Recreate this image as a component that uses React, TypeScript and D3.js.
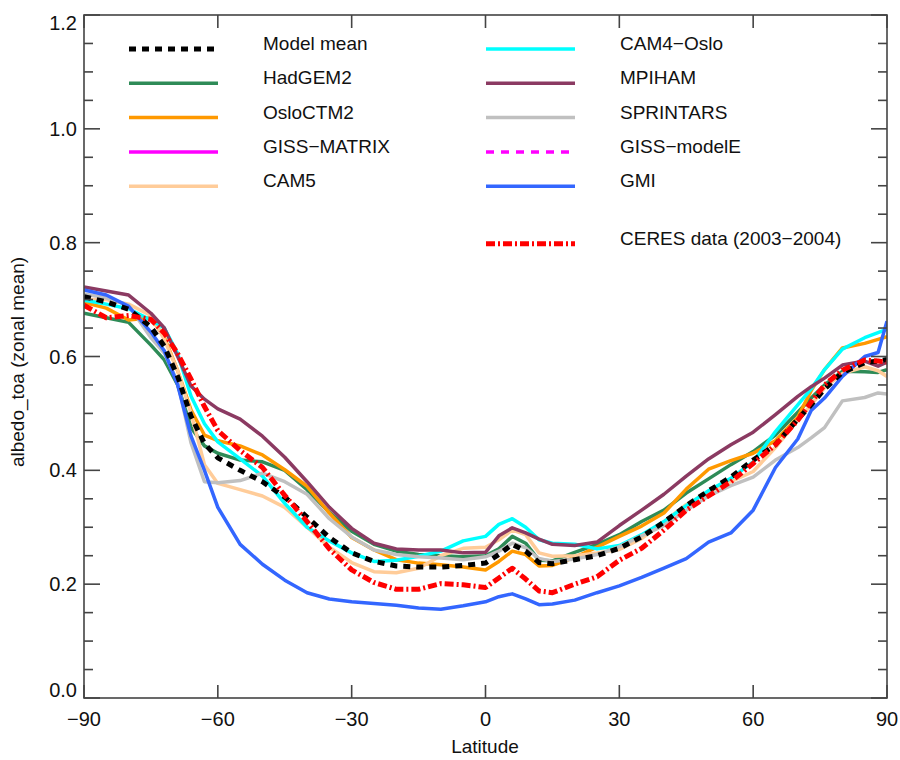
import React from "react";
import * as d3 from "d3";

const LAT = [-90, -85, -80, -75, -72, -69, -66, -63, -60, -55, -50, -45, -40, -35, -30, -25, -20, -15, -10, -5, 0, 3, 6, 9, 12, 15, 20, 25, 30, 35, 40, 45, 50, 55, 60, 65, 70, 73, 76, 80, 85, 88, 90];

const MODEL_MEAN = [.705, .696, .683, .652, .618, .565, .495, .447, .422, .400, .380, .353, .318, .282, .255, .240, .232, .230, .230, .233, .237, .252, .270, .258, .238, .236, .243, .250, .263, .283, .309, .338, .364, .388, .418, .445, .490, .515, .543, .572, .589, .592, .595];
const HADGEM2 = [.676, .668, .66, .62, .594, .55, .475, .443, .43, .418, .415, .40, .366, .326, .293, .27, .258, .252, .25, .248, .25, .262, .284, .272, .242, .241, .256, .27, .287, .31, .33, .36, .385, .41, .433, .462, .502, .527, .55, .574, .573, .572, .577];
const OSLOCTM2 = [.695, .685, .664, .668, .634, .575, .506, .462, .452, .443, .427, .401, .372, .325, .282, .26, .243, .237, .234, .23, .225, .24, .258, .252, .232, .233, .247, .265, .284, .302, .325, .367, .402, .417, .43, .452, .493, .54, .577, .615, .623, .63, .635];
const GISS_MATRIX: number[] = [];
const CAM5 = [.70, .70, .692, .672, .63, .575, .50, .41, .377, .366, .355, .335, .30, .265, .238, .222, .22, .228, .25, .263, .265, .278, .295, .287, .255, .249, .25, .255, .261, .28, .31, .34, .362, .38, .398, .44, .488, .515, .545, .57, .582, .575, .565];
const CAM4_OSLO = [.699, .692, .684, .664, .65, .605, .53, .482, .45, .42, .39, .342, .30, .276, .255, .24, .242, .249, .258, .276, .284, .305, .315, .30, .278, .272, .27, .262, .268, .287, .31, .338, .364, .386, .415, .468, .515, .543, .577, .613, .633, .642, .648];
const MPIHAM = [.722, .715, .708, .676, .65, .60, .548, .525, .508, .49, .46, .423, .38, .335, .298, .272, .262, .26, .26, .255, .256, .285, .299, .29, .279, .27, .268, .274, .303, .33, .358, .39, .42, .445, .467, .498, .53, .547, .562, .585, .592, .583, .59];
const SPRINTARS = [.71, .703, .69, .633, .606, .555, .448, .38, .378, .382, .395, .38, .358, .315, .283, .26, .252, .248, .246, .243, .248, .258, .272, .264, .245, .24, .244, .252, .266, .285, .303, .33, .355, .373, .388, .418, .44, .457, .475, .522, .528, .536, .534];
const GISS_MODELE: number[] = [];
const GMI = [.717, .708, .688, .643, .61, .55, .46, .40, .335, .27, .235, .207, .185, .174, .169, .166, .163, .158, .156, .162, .169, .178, .183, .174, .164, .165, .172, .185, .197, .212, .228, .245, .274, .29, .33, .405, .455, .505, .527, .565, .600, .607, .662];
const CERES = [.69, .668, .672, .665, .641, .605, .56, .512, .47, .435, .405, .356, .31, .262, .225, .203, .191, .191, .201, .199, .194, .211, .228, .209, .188, .185, .2, .213, .242, .263, .295, .33, .355, .38, .412, .445, .488, .52, .55, .576, .594, .592, .59];

const X_TICKS = [-90, -60, -30, 0, 30, 60, 90];
const Y_TICKS = [0.0, 0.2, 0.4, 0.6, 0.8, 1.0, 1.2];
const Y_MINOR = d3.range(0, 1.2001, 0.05);

type Series = { name: string; values: number[]; color: string; width: number; dash?: string; col: number; row: number };

const SERIES: Series[] = [
  { name: "Model mean", values: MODEL_MEAN, color: "#000000", width: 5, dash: "7 6", col: 0, row: 0 },
  { name: "HadGEM2", values: HADGEM2, color: "#2e8b57", width: 3.5, col: 0, row: 1 },
  { name: "OsloCTM2", values: OSLOCTM2, color: "#ff9900", width: 3.5, col: 0, row: 2 },
  { name: "GISS\u2212MATRIX", values: GISS_MATRIX, color: "#ff00ff", width: 3.5, col: 0, row: 3 },
  { name: "CAM5", values: CAM5, color: "#ffcc99", width: 3.5, col: 0, row: 4 },
  { name: "CAM4\u2212Oslo", values: CAM4_OSLO, color: "#00ffff", width: 3.5, col: 1, row: 0 },
  { name: "MPIHAM", values: MPIHAM, color: "#8b3a62", width: 3.5, col: 1, row: 1 },
  { name: "SPRINTARS", values: SPRINTARS, color: "#c0c0c0", width: 3.5, col: 1, row: 2 },
  { name: "GISS\u2212modelE", values: GISS_MODELE, color: "#ff00ff", width: 3.5, dash: "8 7", col: 1, row: 3 },
  { name: "GMI", values: GMI, color: "#3366ff", width: 3.5, col: 1, row: 4 },
  { name: "CERES data (2003\u22122004)", values: CERES, color: "#ff0000", width: 5, dash: "9 3 2 3", col: 1, row: 6 },
];

const DRAW_ORDER = ["HadGEM2", "OsloCTM2", "GISS\u2212MATRIX", "CAM5", "CAM4\u2212Oslo", "MPIHAM", "SPRINTARS", "GISS\u2212modelE", "GMI", "Model mean", "CERES data (2003\u22122004)"];

const W = 900, H = 760;
const L = 84, R = 887, T = 15, B = 698;
const FONT = "'Liberation Sans', Arial, Helvetica, sans-serif";

export default function App() {
  const x = d3.scaleLinear().domain([-90, 90]).range([L, R]);
  const y = d3.scaleLinear().domain([0, 1.2]).range([B, T]);
  const line = d3.line<[number, number]>().x(d => x(d[0])).y(d => y(d[1])).curve(d3.curveLinear);

  const legendRowY = (row: number) => 49 + row * 34.3 + (row >= 6 ? -11 : 0);
  const colLineX = [129, 486];
  const colTextX = [263, 620];

  return (
    <svg width={W} height={H} style={{ position: "absolute", left: 0, top: 0, background: "#fff" }} fontFamily={FONT}>
      <rect x={0} y={0} width={W} height={H} fill="#fff" />
      <defs>
        <clipPath id="plot"><rect x={L} y={T} width={R - L} height={B - T} /></clipPath>
      </defs>
      {/* lines */}
      <g clipPath="url(#plot)">
        {DRAW_ORDER.map(n => SERIES.find(s => s.name === n)!).filter(s => s.values.length).map(s => (
          <path key={s.name}
            d={line(LAT.map((lat, i) => [lat, s.values[i]] as [number, number])) || ""}
            fill="none" stroke={s.color} strokeWidth={s.width}
            strokeDasharray={s.dash} strokeLinejoin="round" strokeLinecap="butt" />
        ))}
      </g>
      {/* frame */}
      <rect x={L} y={T} width={R - L} height={B - T} fill="none" stroke="#444" strokeWidth={1.6} />
      {/* y ticks */}
      {Y_MINOR.map((v, i) => {
        const major = Math.abs(Math.round(v * 10) % 2) === 0 && Math.abs(v * 10 - Math.round(v * 10)) < 1e-6;
        const len = major ? 16 : 9;
        return (
          <g key={"ym" + i}>
            <line x1={L} x2={L + len} y1={y(v)} y2={y(v)} stroke="#444" strokeWidth={1.6} />
            <line x1={R} x2={R - len} y1={y(v)} y2={y(v)} stroke="#444" strokeWidth={1.6} />
          </g>
        );
      })}
      {Y_TICKS.map(v => (
        <text key={"yl" + v} x={77} y={Math.min(Math.max(y(v), T + 8), B - 8)} dy="0.35em" textAnchor="end" fontSize={20} fill="#111">{v.toFixed(1)}</text>
      ))}
      {/* x ticks */}
      {X_TICKS.map(v => (
        <g key={"xt" + v}>
          <line x1={x(v)} x2={x(v)} y1={B} y2={B - 13} stroke="#444" strokeWidth={1.6} />
          <line x1={x(v)} x2={x(v)} y1={T} y2={T + 13} stroke="#444" strokeWidth={1.6} />
          <text x={x(v)} y={726} textAnchor="middle" fontSize={20} fill="#111">{v < 0 ? "\u2212" + Math.abs(v) : String(v)}</text>
        </g>
      ))}
      {/* axis titles */}
      <text x={485} y={753} textAnchor="middle" fontSize={19} fill="#111">Latitude</text>
      <text transform={`translate(24,362) rotate(-90)`} textAnchor="middle" fontSize={19} fill="#111">albedo_toa (zonal mean)</text>
      {/* legend */}
      {SERIES.map(s => {
        const ly = legendRowY(s.row);
        return (
          <g key={"lg" + s.name}>
            <line x1={colLineX[s.col]} x2={colLineX[s.col] + 89} y1={ly} y2={ly} stroke={s.color} strokeWidth={s.width} strokeDasharray={s.dash} />
            <text x={colTextX[s.col]} y={ly + 1} fontSize={19} fill="#111">{s.name}</text>
          </g>
        );
      })}
    </svg>
  );
}
